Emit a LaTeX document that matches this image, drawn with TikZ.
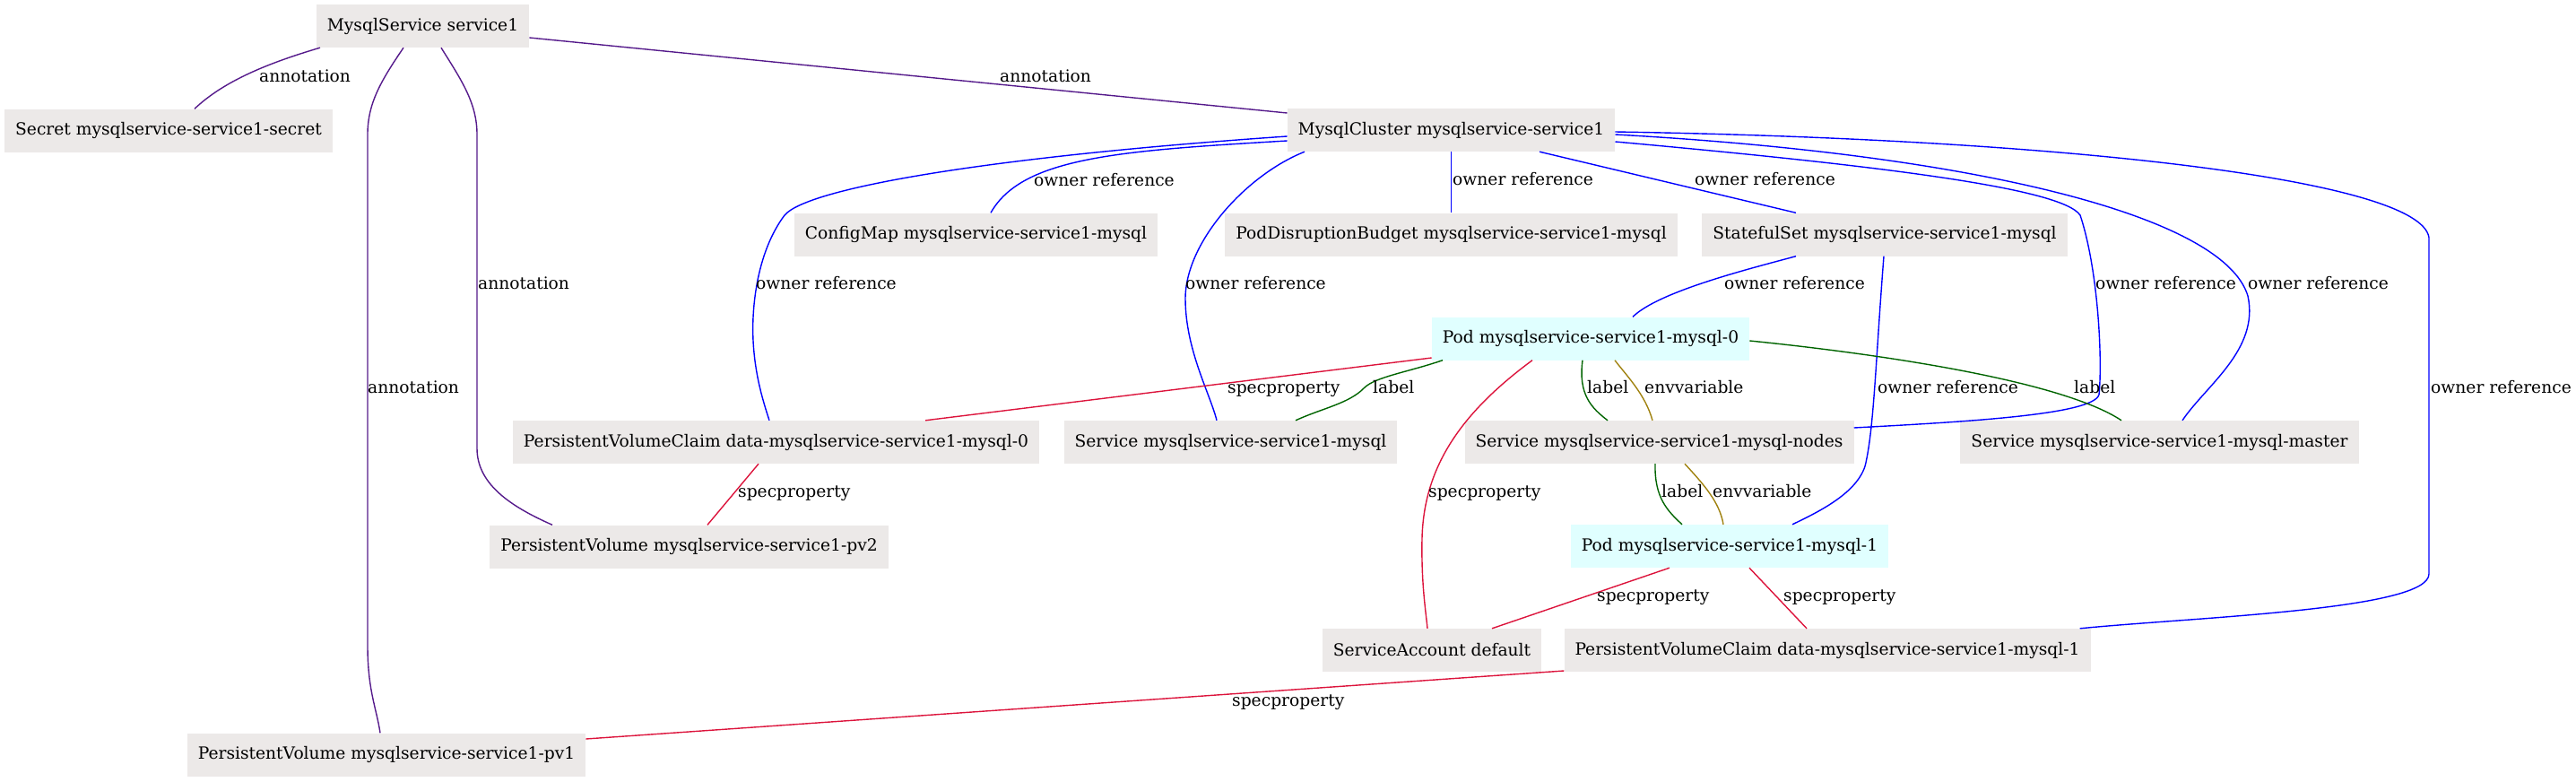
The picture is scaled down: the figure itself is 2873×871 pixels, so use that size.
\documentclass[tikz,border=0pt]{standalone}
\usepackage{fontspec}
\setmainfont{DejaVu Serif}
\definecolor{boxgray}{RGB}{236,233,232}
\definecolor{podcyan}{RGB}{224,255,255}
\definecolor{annc}{RGB}{85,26,139}
\definecolor{ownc}{RGB}{0,0,255}
\definecolor{specc}{RGB}{220,20,60}
\definecolor{labc}{RGB}{0,100,0}
\definecolor{envc}{RGB}{160,130,16}
\tikzset{
  obj/.style={fill=boxgray, draw=none, minimum height=48pt, inner xsep=12pt, inner ysep=0pt,
    font=\fontsize{18.67}{22}\selectfont},
  podbox/.style={obj, fill=podcyan},
  lbl/.style={anchor=west, inner sep=0pt, text height=13.5pt, text depth=4pt,
    font=\fontsize{18.67}{22}\selectfont},
  edge/.style={line width=1.4pt},
  annE/.style={edge, draw=annc},
  ownE/.style={edge, draw=ownc},
  specE/.style={edge, draw=specc},
  labE/.style={edge, draw=labc},
  envE/.style={edge, draw=envc},
}
\begin{document}
\begin{tikzpicture}[x=1pt, y=-1pt]
\useasboundingbox (0,0) rectangle (2873,871);
% nodes
\node[obj] (ms) at (471.5,29) {MysqlService service1};
\node[obj] (sec) at (188,145.5) {Secret mysqlservice-service1-secret};
\node[obj] (mc) at (1618.5,145) {MysqlCluster mysqlservice-service1};
\node[obj] (cm) at (1088.5,261.5) {ConfigMap mysqlservice-service1-mysql};
\node[obj] (pdb) at (1618.5,261.5) {PodDisruptionBudget mysqlservice-service1-mysql};
\node[obj] (ss) at (2102,261.5) {StatefulSet mysqlservice-service1-mysql};
\node[podbox] (pod0) at (1774,377.5) {Pod mysqlservice-service1-mysql-0};
\node[obj] (pvc0) at (865.5,493) {PersistentVolumeClaim data-mysqlservice-service1-mysql-0};
\node[obj] (svc) at (1372.5,493) {Service mysqlservice-service1-mysql};
\node[obj] (nodes) at (1850.5,493) {Service mysqlservice-service1-mysql-nodes};
\node[obj] (master) at (2408.5,493) {Service mysqlservice-service1-mysql-master};
\node[obj] (pv2) at (768.5,609.5) {PersistentVolume mysqlservice-service1-pv2};
\node[podbox] (pod1) at (1929,609) {Pod mysqlservice-service1-mysql-1};
\node[obj] (sa) at (1597,725) {ServiceAccount default};
\node[obj] (pvc1) at (2038,725) {PersistentVolumeClaim data-mysqlservice-service1-mysql-1};
\node[obj] (pv1) at (431,841.5) {PersistentVolume mysqlservice-service1-pv1};

% annotation edges
\draw[annE] ([xshift=-114.5]ms.south) .. controls (300,70) and (250,90) .. ([xshift=29]sec.north);
\node[lbl] (l1) at (289,87) {annotation};
\draw[annE] ([yshift=-13]ms.east) -- ([yshift=19]mc.west);
\node[lbl] (l2) at (1115,87) {annotation};
\draw[annE] ([xshift=-21.5]ms.south) .. controls (425,90) and (410,115) .. (410,150) -- (410,720) .. controls (410,770) and (420,790) .. ([xshift=-7]pv1.north);
\node[lbl] (l3) at (410,434) {annotation};
\draw[annE] ([xshift=20.5]ms.south) .. controls (515,90) and (532,115) .. (532,150) -- (532,500) .. controls (532,540) and (570,565) .. ([xshift=-152.5]pv2.north);
\node[lbl] (l4) at (533,318) {annotation};

% owner reference edges
\draw[ownE] ([yshift=-12]mc.west) .. controls (1250,168) and (1140,175) .. ([xshift=16.5]cm.north);
\node[lbl] (l5) at (1153,203) {owner reference};
\draw[ownE] ([yshift=-7]mc.west) .. controls (1100,175) and (900,210) .. (875,240) .. controls (845,280) and (838,340) .. (840,380) .. controls (842,420) and (852,450) .. ([xshift=-7.5]pvc0.north);
\node[lbl] (l6) at (843,318) {owner reference};
\draw[ownE] (mc.south) -- (pdb.north);
\node[lbl] (l7) at (1620,202) {owner reference};
\draw[ownE] ([xshift=98.5]mc.south) -- ([xshift=-99]ss.north);
\node[lbl] (l8) at (1890,202) {owner reference};
\draw[ownE] ([xshift=-163.5]mc.south) .. controls (1390,195) and (1322,270) .. (1322,333) .. controls (1322,390) and (1350,440) .. ([xshift=-15.5]svc.north);
\node[lbl] (l9) at (1322,318) {owner reference};
\draw[ownE] ([yshift=-13]mc.east) .. controls (2100,185) and (2300,210) .. (2320,240) .. controls (2340,300) and (2345,400) .. (2341,440) .. controls (2335,462) and (2200,470) .. ([yshift=16]nodes.east);
\node[lbl] (l10) at (2337,318) {owner reference};
\draw[ownE] ([yshift=-5]mc.east) .. controls (2200,172) and (2480,240) .. (2507,330) .. controls (2520,390) and (2460,430) .. ([xshift=25.5]master.north);
\node[lbl] (l11) at (2507,318) {owner reference};
\draw[ownE] ([yshift=-2]mc.east) .. controls (2300,155) and (2700,200) .. (2709,265) -- (2709,640) .. controls (2709,680) and (2450,688) .. ([xshift=-12]pvc1.north east);
\node[lbl] (l12) at (2711,434) {owner reference};
\draw[ownE] ([xshift=-99]ss.south) .. controls (1950,300) and (1850,325) .. ([xshift=47]pod0.north);
\node[lbl] (l13) at (1923,318) {owner reference};
\draw[ownE] ([xshift=-1]ss.south) .. controls (2092,400) and (2090,480) .. (2080,520) .. controls (2070,550) and (2030,570) .. ([xshift=70]pod1.north);
\node[lbl] (l14) at (2094,434) {owner reference};

% pod0 edges
\draw[specE] ([yshift=-21.5]pod0.west) -- ([xshift=166.5]pvc0.north);
\node[lbl] (l15) at (1369,434) {specproperty};
\draw[labE] ([xshift=-165]pod0.south) .. controls (1570,415) and (1535,420) .. (1522,432) .. controls (1505,450) and (1475,455) .. ([xshift=72.5]svc.north);
\node[lbl] (l16) at (1531,434) {label};
\draw[specE] ([xshift=-65]pod0.south) .. controls (1630,460) and (1588,520) .. (1586,600) .. controls (1585,650) and (1590,680) .. ([xshift=-5]sa.north);
\node[lbl] (l17) at (1593,550) {specproperty};
\draw[labE] ([xshift=-9]pod0.south) .. controls (1760,440) and (1775,455) .. ([xshift=-57.5]nodes.north);
\node[lbl] (l18) at (1770,434) {label};
\draw[envE] ([xshift=27]pod0.south) .. controls (1815,420) and (1835,440) .. ([xshift=-7.5]nodes.north);
\node[lbl] (l19) at (1834,434) {envvariable};
\draw[labE] ([yshift=-2.5]pod0.east) .. controls (2100,395) and (2300,425) .. ([xshift=-42.5]master.north);
\node[lbl] (l20) at (2313,434) {label};

% nodes -> pod1
\draw[labE] ([xshift=-4.5]nodes.south) .. controls (1845,555) and (1860,570) .. ([xshift=-53]pod1.north);
\node[lbl] (l21) at (1853,550) {label};
\draw[envE] ([xshift=28.5]nodes.south) .. controls (1900,540) and (1918,560) .. ([xshift=-7]pod1.north);
\node[lbl] (l22) at (1910,550) {envvariable};

% spec properties
\draw[specE] ([xshift=-19.5]pvc0.south) -- ([xshift=20.5]pv2.north);
\node[lbl] (l23) at (823,550) {specproperty};
\draw[specE] ([xshift=-67]pod1.south) -- ([xshift=67]sa.north);
\node[lbl] (l24) at (1781,666) {specproperty};
\draw[specE] ([xshift=22]pod1.south) -- ([xshift=-23]pvc1.north);
\node[lbl] (l25) at (1989,666) {specproperty};
\draw[specE] ([yshift=-23]pvc1.west) -- ([yshift=17.5]pv1.east);
\node[lbl] (l26) at (1374,783) {specproperty};
\end{tikzpicture}
\end{document}
